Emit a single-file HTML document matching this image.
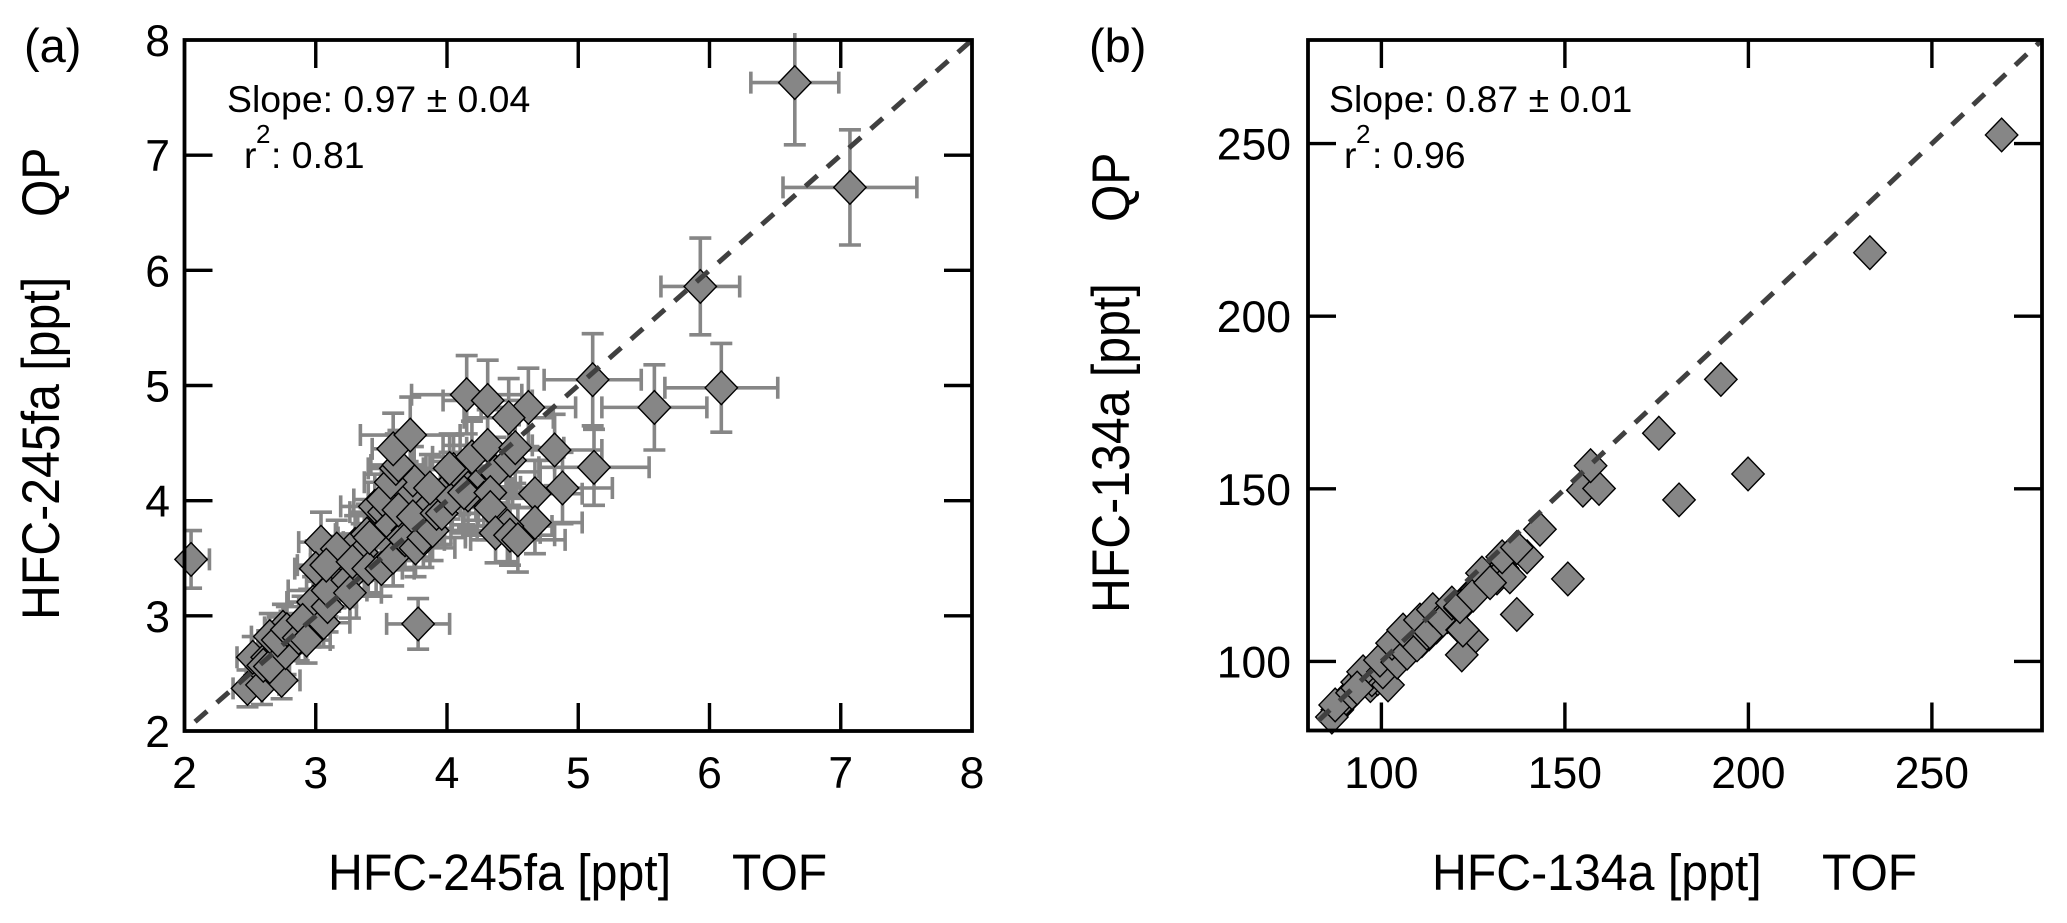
<!DOCTYPE html>
<html lang="en">
<head>
<meta charset="utf-8">
<title>HFC scatter comparison</title>
<style>
html,body{margin:0;padding:0;background:#fff;}
svg{display:block;}
text{font-family:"Liberation Sans",Arial,sans-serif;fill:#000;}
.tick{font-size:44.5px;}
.axis{font-size:48px;}
.note{font-size:37.4px;}
.sup{font-size:26px;}
.panel{font-size:47px;}
</style>
</head>
<body>
<svg id="chart" xmlns="http://www.w3.org/2000/svg" width="2067" height="923" viewBox="0 0 2067 923">
  <rect x="0" y="0" width="2067" height="923" fill="#fff"/>
  <g id="panelA"></g>
  <g id="panelB"></g>

  <text class="panel" x="24" y="62">(a)</text>
  <text class="axis" transform="translate(328,890) scale(1.005,1.06)" x="0" y="0">HFC-245fa [ppt]</text>
  <text class="axis" transform="translate(732,890) scale(1,1.06)" x="0" y="0">TOF</text>
  <text class="axis" transform="translate(59,620) rotate(-90) scale(1.005,1.1)" x="0" y="0">HFC-245fa [ppt]</text>
  <text class="axis" transform="translate(59,217) rotate(-90) scale(1,1.1)" x="0" y="0">QP</text>
  <text class="note" x="227" y="112">Slope: 0.97 ± 0.04</text>
  <text class="note" x="244" y="168">r</text>
  <text class="sup" x="256" y="143">2</text>
  <text class="note" x="271" y="168">: 0.81</text>

  <text class="panel" x="1089" y="62">(b)</text>
  <text class="axis" transform="translate(1432,890) scale(1.005,1.06)" x="0" y="0">HFC-134a [ppt]</text>
  <text class="axis" transform="translate(1822,890) scale(1,1.06)" x="0" y="0">TOF</text>
  <text class="axis" transform="translate(1129,613) rotate(-90) scale(1.005,1.1)" x="0" y="0">HFC-134a [ppt]</text>
  <text class="axis" transform="translate(1129,222) rotate(-90) scale(1,1.1)" x="0" y="0">QP</text>
  <text class="note" x="1329" y="112">Slope: 0.87 ± 0.01</text>
  <text class="note" x="1344" y="168">r</text>
  <text class="sup" x="1356" y="143">2</text>
  <text class="note" x="1372" y="168">: 0.96</text>
</svg>
<script>
// Panel (a) HFC-245fa: TOF (x), QP (y) and their uncertainties
const tofA = [3.80,3.85,3.95,4.02,4.10,3.45,3.52,3.60,3.30,3.20,3.15,2.95,2.98,3.35,4.22,4.28,3.70,2.48,2.59,2.74,2.52,2.63,2.60,2.65,2.77,2.75,2.65,2.71,2.78,2.87,2.90,2.93,3.06,3.09,3.09,3.24,3.26,3.04,3.16,3.00,3.08,3.28,3.40,3.50,3.59,3.39,3.41,3.57,3.70,3.66,3.68,3.76,3.51,3.63,3.74,3.82,3.89,3.92,3.96,3.74,3.57,3.61,3.63,3.59,3.72,3.87,4.04,4.05,4.02,4.16,4.13,4.19,4.31,4.37,4.33,4.33,4.48,4.52,4.67,4.88,4.67,4.46,4.37,4.48,4.54,4.15,4.31,4.62,4.47,5.11,5.12,4.82,5.58,6.09,5.93,7.07,6.65,2.05,3.78];
const qpA = [3.95,4.00,4.05,4.13,4.18,3.95,3.90,3.80,3.62,3.45,3.30,3.02,3.12,3.55,4.12,4.02,4.05,2.37,2.40,2.44,2.64,2.64,2.57,2.56,2.68,2.90,2.82,2.79,2.88,2.81,2.96,2.79,2.94,3.08,3.22,3.31,3.20,3.64,3.58,3.41,3.44,3.47,3.41,3.41,3.51,3.71,3.68,3.79,3.74,3.68,3.66,3.59,4.01,3.92,3.86,3.68,3.74,3.89,3.89,4.18,4.16,4.28,4.31,4.45,4.57,4.11,4.02,4.27,4.28,4.05,4.07,4.38,4.48,4.25,4.07,3.94,4.35,4.46,4.06,4.11,3.81,3.78,3.72,3.70,3.66,4.92,4.87,4.81,4.72,5.05,4.29,4.44,4.81,4.98,5.86,6.72,7.63,3.49,2.93];
const tofErrA = [.30,.32,.34,.34,.36,.26,.26,.28,.24,.24,.22,.18,.20,.24,.34,.36,.30,.11,.13,.14,.12,.14,.13,.15,.15,.14,.14,.15,.16,.16,.17,.18,.20,.22,.30,.22,.24,.17,.20,.16,.22,.24,.26,.25,.28,.24,.24,.26,.28,.27,.30,.30,.22,.26,.30,.32,.34,.32,.36,.24,.20,.21,.21,.16,.38,.30,.32,.30,.30,.34,.34,.30,.34,.34,.36,.36,.34,.37,.36,.38,.36,.34,.34,.34,.36,.42,.34,.36,.34,.37,.42,.36,.40,.43,.30,.51,.335,.14,.24];
const qpErrA = [.28,.28,.29,.29,.30,.28,.27,.27,.25,.24,.23,.21,.22,.25,.29,.28,.29,.16,.17,.16,.18,.19,.18,.18,.19,.20,.20,.20,.20,.20,.21,.20,.21,.22,.23,.23,.22,.26,.25,.24,.24,.24,.24,.24,.25,.26,.26,.27,.26,.26,.26,.25,.28,.27,.27,.26,.26,.27,.27,.29,.29,.30,.30,.31,.33,.29,.28,.30,.30,.28,.28,.31,.31,.30,.29,.28,.31,.31,.29,.31,.27,.31,.26,.26,.28,.34,.35,.34,.34,.40,.33,.31,.37,.385,.42,.50,.54,.25,.22];

// Panel (b) HFC-134a: TOF (x) and QP (y)
const tofB = [88,89.5,90,97,99,101,103,105,108,111,113,115,118,120,123,126,128,130,133,86.5,87.4,92,94.7,93.4,96,97.4,95,93.4,101.8,100.4,99.6,104.3,102.9,107,109.7,105.9,112.4,110.5,113.2,114,116.5,116.8,119.2,121.4,122,124.7,121.9,122.2,121.4,125,127.4,131.5,135,129.6,132.9,139.7,136.9,143.2,136.9,150.8,154.9,159.3,157,181.1,199.9,175.6,192.5,233.1,269];
const qpB = [86,88,89,93,95,97,99,101,103.5,106,108,110,113,115,118,121,123,124.5,127,83.9,87.4,90.9,93.8,94,95.5,94.7,97,92.3,93.2,97,100.4,99.8,105.3,102.4,104.8,109.1,108.2,112,108.6,115,112.6,112,116.9,115.5,109.1,106.3,101.9,109.1,115.9,119.2,125.6,124.2,124.5,122.8,130.3,130.3,133,138.3,113.6,123.9,149.6,150.1,156.7,146.8,154.3,166.1,181.7,218.4,252.5];

// Tick values
const xTicksA = [2,3,4,5,6,7,8];
const yTicksA = [2,3,4,5,6,7,8];
const xTicksB = [100,150,200,250];
const yTicksB = [100,150,200,250];
// Axis ranges
const domainA = [2,8];
const domainB = [80,280];

const SVG_NS = 'http://www.w3.org/2000/svg';
function mk(tag, attrs, parent){
  const el = document.createElementNS(SVG_NS, tag);
  for (const k in attrs) el.setAttribute(k, attrs[k]);
  parent.appendChild(el);
  return el;
}
function linear(d0, d1, r0, r1){
  return v => r0 + (v - d0) * (r1 - r0) / (d1 - d0);
}

function drawPanel(root, prefix, box, domain, xTicks, yTicks, xs, ys, xErr, yErr, labelAnchorX){
  const sx = linear(domain[0], domain[1], box.left, box.right);
  const sy = linear(domain[0], domain[1], box.bottom, box.top);

  if (xErr && yErr) {
    const clipId = prefix + '-clip';
    const defs = mk('defs', {}, root);
    const cp = mk('clipPath', {id: clipId}, defs);
    mk('rect', {x: box.left, y: box.top - 7, width: box.right - box.left + 12, height: box.bottom - box.top + 7}, cp);
    const errGroup = mk('g', {'clip-path': 'url(#' + clipId + ')', stroke: '#868686', 'stroke-width': 3.6, fill: 'none'}, root);
    
    
    xs.forEach((x, i) => {
      const cx = sx(x), cy = sy(ys[i]);
      const x0 = sx(x - xErr[i]), x1 = sx(x + xErr[i]);
      const y0 = sy(ys[i] - yErr[i]), y1 = sy(ys[i] + yErr[i]);
      const cap = 11;
      const d = 'M' + x0 + ' ' + cy + 'H' + x1 +
                'M' + x0 + ' ' + (cy - cap) + 'V' + (cy + cap) +
                'M' + x1 + ' ' + (cy - cap) + 'V' + (cy + cap) +
                'M' + cx + ' ' + y0 + 'V' + y1 +
                'M' + (cx - cap) + ' ' + y0 + 'H' + (cx + cap) +
                'M' + (cx - cap) + ' ' + y1 + 'H' + (cx + cap);
      const bar = mk('path', {d: d}, errGroup);
      
      
    });
  }

  const hw = 16.2, hh = 16.8;
  xs.forEach((x, i) => {
    const cx = sx(x), cy = sy(ys[i]);
    const pts = [[cx - hw, cy], [cx, cy - hh], [cx + hw, cy], [cx, cy + hh]].map(p => p.join(',')).join(' ');
    const pt = mk('polygon', {points: pts, fill: '#868686', stroke: '#000', 'stroke-width': 1.4}, root);
    
    
  });

  const one = mk('line', {
    x1: sx(domain[0]), y1: sy(domain[0]), x2: sx(domain[1]), y2: sy(domain[1]),
    stroke: '#404040', 'stroke-width': 5, 'stroke-dasharray': '16 13', 'stroke-dashoffset': 15
  }, root);
  
  

  const frame = mk('rect', {
    x: box.left, y: box.top, width: box.right - box.left, height: box.bottom - box.top,
    fill: 'none', stroke: '#000', 'stroke-width': 3.8
  }, root);
  
  

  const tickLen = 28;
  xTicks.forEach(t => {
    const x = sx(t);
    const d = 'M' + x + ' ' + box.bottom + 'v' + (-tickLen) + 'M' + x + ' ' + box.top + 'v' + tickLen;
    if (t !== domain[0] && t !== domain[1]) {
      const tk = mk('path', {d: d, stroke: '#000', 'stroke-width': 3.4, fill: 'none'}, root);
      
      
    }
    const lb = mk('text', {x: x, y: 788, 'text-anchor': 'middle', class: 'tick'}, root);
    
    
    lb.textContent = String(t);
  });
  yTicks.forEach(t => {
    const y = sy(t);
    const d = 'M' + box.left + ' ' + y + 'h' + tickLen + 'M' + box.right + ' ' + y + 'h' + (-tickLen);
    if (t !== domain[0] && t !== domain[1]) {
      const tk = mk('path', {d: d, stroke: '#000', 'stroke-width': 3.4, fill: 'none'}, root);
      
      
    }
    const lb = mk('text', {x: labelAnchorX, y: y + 16, 'text-anchor': 'end', class: 'tick'}, root);
    
    
    lb.textContent = String(t);
  });
}

drawPanel(document.getElementById('panelA'), 'panel-a',
  {left: 184.5, right: 972, top: 40, bottom: 731}, domainA, xTicksA, yTicksA, tofA, qpA, tofErrA, qpErrA, 170);
drawPanel(document.getElementById('panelB'), 'panel-b',
  {left: 1308, right: 2042, top: 40, bottom: 730.5}, domainB, xTicksB, yTicksB, tofB, qpB, null, null, 1291);
</script>
</body>
</html>
